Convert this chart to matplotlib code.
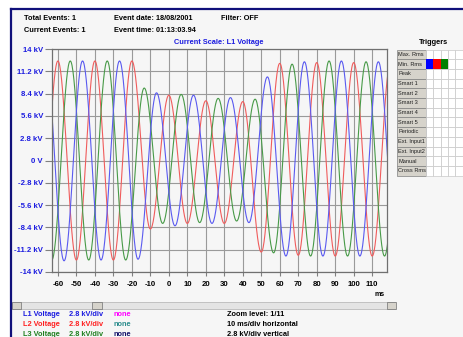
import numpy as np
import matplotlib
matplotlib.use("Agg")
import matplotlib.pyplot as plt
from matplotlib.patches import Rectangle

plt.rcParams['font.family'] = ['Liberation Sans', 'DejaVu Sans']

# waveform extrema, one every half cycle (10 ms), in kV
red_start = -70.0
red_ext = [-12.5, 12.5, -12.5, 12.5, -12.5, 12.5, -8.6, 8.2, -7.9, 7.5, -7.9, 7.4,
           -11.5, 12.2, -11.9, 12.3, -12.0, 12.3, -12.0, 12.3, -12.0]
green_start = -73.33
green_ext = [12.5, -12.5, 12.5, -12.5, 12.5, -12.5, 9.1, -7.9, 8.3, -7.8, 7.8, -7.6,
             7.7, -11.6, 12.1, -12.0, 12.5, -12.0, 12.4, -12.0, 12.3]
blue_start = -76.67
blue_ext = [-12.5, 12.5, -12.6, 12.5, -12.5, 12.5, -12.4, 8.5, -8.2, 8.2, -7.9, 7.9,
            -7.8, 10.5, -12.0, 12.4, -12.0, 12.5, -12.0, 12.4, -12.0]
half_period = 10.0

yticks = [14, 11.2, 8.4, 5.6, 2.8, 0, -2.8, -5.6, -8.4, -11.2, -14]
ylabels = ['14 kV', '11.2 kV', '8.4 kV', '5.6 kV', '2.8 kV', '0 V',
           '-2.8 kV', '-5.6 kV', '-8.4 kV', '-11.2 kV', '-14 kV']
xticks = list(range(-60, 111, 10))

triggers = ['Max. Rms', 'Min. Rms', 'Peak', 'Smart 1', 'Smart 2', 'Smart 3', 'Smart 4',
            'Smart 5', 'Periodic', 'Ext. Input1', 'Ext. Input2', 'Manual', 'Cross Rms']

RED = '#f05c5c'
GREEN = '#489a48'
BLUE = '#5a5af0'
TXTBLUE = '#1c1ce0'


def wave(start, ext):
    # half-cosine between consecutive extrema
    ts, vs = [], []
    for i in range(len(ext) - 1):
        t = np.linspace(0, half_period, 40, endpoint=False)
        a, b = ext[i], ext[i + 1]
        ts.append(start + i * half_period + t)
        vs.append((a + b) / 2 + (a - b) / 2 * np.cos(np.pi * t / half_period))
    return np.concatenate(ts), np.concatenate(vs)


fig = plt.figure(figsize=(4.63, 3.37), dpi=100)
fig.patch.set_facecolor('white')

bg = fig.add_axes([0, 0, 1, 1], zorder=0)
bg.set_xlim(0, 463)
bg.set_ylim(337, 0)
bg.axis('off')
bg.add_patch(Rectangle((11, 9), 460, 340, facecolor='#f6f6f6', edgecolor='none'))
bg.plot([11, 463], [9, 9], color='#10107a', lw=1.6)
bg.plot([11, 11], [9, 337], color='#10107a', lw=1.6)

fs = 5.3
bg.text(24, 19, 'Total Events: 1', fontsize=fs, va='center', fontweight='bold')
bg.text(24, 31, 'Current Events: 1', fontsize=fs, va='center', fontweight='bold')
bg.text(114, 19, 'Event date: 18/08/2001', fontsize=fs, va='center', fontweight='bold')
bg.text(114, 31, 'Event time: 01:13:03.94', fontsize=fs, va='center', fontweight='bold')
bg.text(221, 19, 'Filter: OFF', fontsize=fs, va='center', fontweight='bold')
bg.text(219, 43, 'Current Scale: L1 Voltage', fontsize=fs, va='center', ha='center',
        color=TXTBLUE, fontweight='bold')
bg.text(433, 43, 'Triggers', fontsize=fs, va='center', ha='center', fontweight='bold')
bg.text(380, 295, 'ms', fontsize=5, va='center', ha='center', fontweight='bold')

# triggers table
row_h = 9.7
top = 49.5
for i, name in enumerate(triggers):
    y = top + i * row_h
    bg.add_patch(Rectangle((397, y), 29, row_h, facecolor='#d6d3cb', edgecolor='#808080', lw=0.5))
    bg.text(398.5, y + row_h / 2, name, fontsize=4.1, va='center', color='#202020')
    for j in range(6):
        bg.add_patch(Rectangle((426 + j * 7.3, y), 7.3, row_h, facecolor='white',
                               edgecolor='#c8c8c8', lw=0.5))
for j, c in enumerate(['#0000ff', '#ff0000', '#008000']):
    bg.add_patch(Rectangle((426 + j * 7.3, top + row_h), 7.3, row_h, facecolor=c, edgecolor='none'))

# scrollbar
bg.add_patch(Rectangle((12, 302), 383, 6.5, facecolor='#e4e4e4', edgecolor='#b0b0b0', lw=0.5))
for x0 in [12, 387, 92]:
    w = 8.5 if x0 != 92 else 9.5
    bg.add_patch(Rectangle((x0, 302), w, 6.5, facecolor='#d6d3cb', edgecolor='#707070', lw=0.5))

# bottom legend
rows = [('L1 Voltage', BLUE, 'none', '#ff00ff', 'Zoom level: 1/11'),
        ('L2 Voltage', '#ff2020', 'none', '#2a8c8c', '10 ms/div horizontal'),
        ('L3 Voltage', '#208020', 'none', '#10106a', '2.8 kV/div vertical')]
for i, (lab, col, nn, ncol, info) in enumerate(rows):
    y = 314.5 + i * 10
    c = TXTBLUE if i == 0 else col
    bg.text(23, y, lab, fontsize=fs, va='center', color=c, fontweight='bold')
    bg.text(69, y, '2.8 kV/div', fontsize=fs, va='center', color=c, fontweight='bold')
    bg.text(114, y, nn, fontsize=fs, va='center', color=ncol, fontweight='bold')
    bg.text(227, y, info, fontsize=fs, va='center', fontweight='bold')

# main waveform plot
ax = fig.add_axes([52 / 463, 1 - 272 / 337, 335 / 463, 223 / 337], zorder=1)
ax.set_facecolor('#f6f6f6')
for start, ext, col in [(red_start, red_ext, RED), (green_start, green_ext, GREEN),
                        (blue_start, blue_ext, BLUE)]:
    t, v = wave(start, ext)
    ax.plot(t, v, color=col, lw=0.8)

ax.set_xlim(-63.2, 118)
ax.set_ylim(-14, 14)
ax.set_yticks(yticks)
ax.set_yticklabels(ylabels)
ax.set_xticks(xticks)
ax.set_xticklabels([str(x) for x in xticks])
ax.grid(color='#9a9a9a', lw=0.8)
ax.set_axisbelow(True)
ax.tick_params(axis='y', length=5, width=0.8, color='#808080', pad=1.5, labelsize=5.6,
               labelcolor=TXTBLUE)
ax.tick_params(axis='x', length=3, width=0.8, color='#808080', pad=3.5, labelsize=5.6)
for lab in ax.get_xticklabels() + ax.get_yticklabels():
    lab.set_fontweight('bold')
for s in ax.spines.values():
    s.set_color('#707070')
    s.set_linewidth(0.9)

fig.savefig('out.png', dpi=100)
